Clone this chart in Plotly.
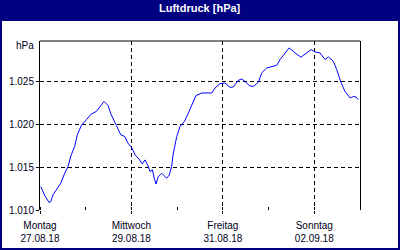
import pandas as pd
import plotly.graph_objects as go

# Hours since 27.08.18 00:00 and air pressure [hPa]
hours = [0.4, 1.6, 2.8, 4.7, 5.6, 6.8, 8.6, 10.9, 13.0, 14.7, 16.4, 18.2, 19.6, 21.7, 24.3,
         26.9, 29.6, 31.3, 33.6, 35.7, 37.4, 40.1, 42.4, 44.5, 46.2, 48.3, 49.9, 51.6, 53.7,
         55.1, 56.5, 57.8, 59.0, 60.0, 60.9, 62.1, 63.9, 65.3, 66.5, 67.9, 69.1, 70.0, 71.8,
         73.5, 75.8, 77.9, 79.7, 81.8, 84.9, 87.5, 90.2, 91.9, 94.5, 97.1, 99.8, 101.5, 104.1,
         105.9, 107.6, 109.9, 112.0, 114.6, 116.4, 119.0, 121.7, 124.3, 126.0, 128.6, 130.8,
         133.9, 137.0, 140.0, 142.3, 144.4, 147.0, 149.6, 151.4, 154.0, 155.8, 158.0, 160.1,
         162.8, 164.5, 165.9, 167.1]
pressure = [1012.74, 1012.15, 1011.56, 1010.90, 1010.97, 1011.76, 1012.35, 1013.14, 1014.31,
            1015.09, 1016.46, 1017.44, 1018.81, 1019.90, 1020.57, 1021.24, 1021.55, 1022.02,
            1022.72, 1022.25, 1021.16, 1019.90, 1018.81, 1018.61, 1017.83, 1017.25, 1016.46,
            1016.07, 1015.40, 1015.87, 1015.29, 1014.50, 1014.70, 1013.72, 1013.05, 1013.91,
            1014.31, 1013.99, 1013.72, 1014.11, 1015.09, 1016.66, 1018.61, 1019.78, 1020.37,
            1021.36, 1022.33, 1023.39, 1023.71, 1023.71, 1023.71, 1024.30, 1024.80, 1024.88,
            1024.37, 1024.42, 1025.19, 1025.35, 1025.07, 1024.57, 1024.48, 1024.95, 1026.06,
            1026.64, 1026.83, 1026.95, 1027.62, 1028.44, 1028.99, 1028.41, 1027.89, 1028.41,
            1028.79, 1028.52, 1028.41, 1027.62, 1027.94, 1027.42, 1026.44, 1024.95, 1023.90,
            1023.12, 1023.31, 1023.24, 1022.92]

x_tick_dates = ["2018-08-27", "2018-08-29", "2018-08-31", "2018-09-02"]
x_tick_labels = ["Montag<br>27.08.18", "Mittwoch<br>29.08.18", "Freitag<br>31.08.18", "Sonntag<br>02.09.18"]
y_tick_vals = [1010, 1015, 1020, 1025]

start = pd.Timestamp("2018-08-27")
times = [start + pd.Timedelta(hours=h) for h in hours]

NAVY = "#000080"
FONT = "Liberation Sans"

fig = go.Figure()
fig.add_trace(go.Scatter(x=times, y=pressure, mode="lines",
                         line=dict(color="#0000FF", width=1), hoverinfo="skip"))

fig.update_layout(
    width=400, height=250,
    margin=dict(l=40, r=40, t=41, b=40),
    paper_bgcolor="white", plot_bgcolor="white",
    separators=",.",
    showlegend=False,
    font=dict(family=FONT, size=10, color="#000022"),
    xaxis=dict(
        type="date", range=["2018-08-27", "2018-09-03"],
        tickvals=x_tick_dates, ticktext=x_tick_labels,
        showgrid=True, gridcolor="black", gridwidth=1, griddash="4px,3px",
        ticks="outside", ticklen=3, tickcolor="black", ticklabelstandoff=3,
        minor=dict(dtick=86400000, tick0="2018-08-27", ticks="inside", ticklen=3,
                   tickcolor="black", showgrid=False),
        showline=False, zeroline=False, fixedrange=True, automargin=False,
    ),
    yaxis=dict(
        range=[1010, 1029.8],
        tickvals=y_tick_vals, tickformat=",.0f",
        showgrid=True, gridcolor="black", gridwidth=1, griddash="4px,3px",
        ticks="outside", ticklen=3, tickcolor="black",
        showline=True, mirror=True, linecolor="black", linewidth=1,
        zeroline=False, fixedrange=True, automargin=False,
    ),
    shapes=[
        # title bar
        dict(type="rect", xref="paper", yref="paper", x0=-0.125, x1=1.125,
             y0=1 + 20 / 169, y1=1 + 41 / 169, fillcolor=NAVY, line=dict(width=0), layer="below"),
        # outer border
        dict(type="rect", xref="paper", yref="paper", x0=-39 / 320, x1=359 / 320,
             y0=-39 / 169, y1=1 + 40 / 169, line=dict(color=NAVY, width=2)),
        # top frame line
        dict(type="line", xref="paper", yref="paper", x0=0, x1=1, y0=1, y1=1,
             line=dict(color="black", width=1)),
    ],
    annotations=[
        dict(text="<b>Luftdruck [hPa]</b>", xref="paper", yref="paper", x=0.5,
             y=1 + 33 / 169, showarrow=False, font=dict(family=FONT, size=11, color="white"),
             xanchor="center", yanchor="middle"),
        dict(text="hPa", xref="paper", yref="paper", x=0, xshift=-4, y=1 - 4.7 / 169,
             showarrow=False, xanchor="right", yanchor="middle",
             font=dict(family=FONT, size=10, color="#000022")),
    ],
)

fig.write_html("out.html")
